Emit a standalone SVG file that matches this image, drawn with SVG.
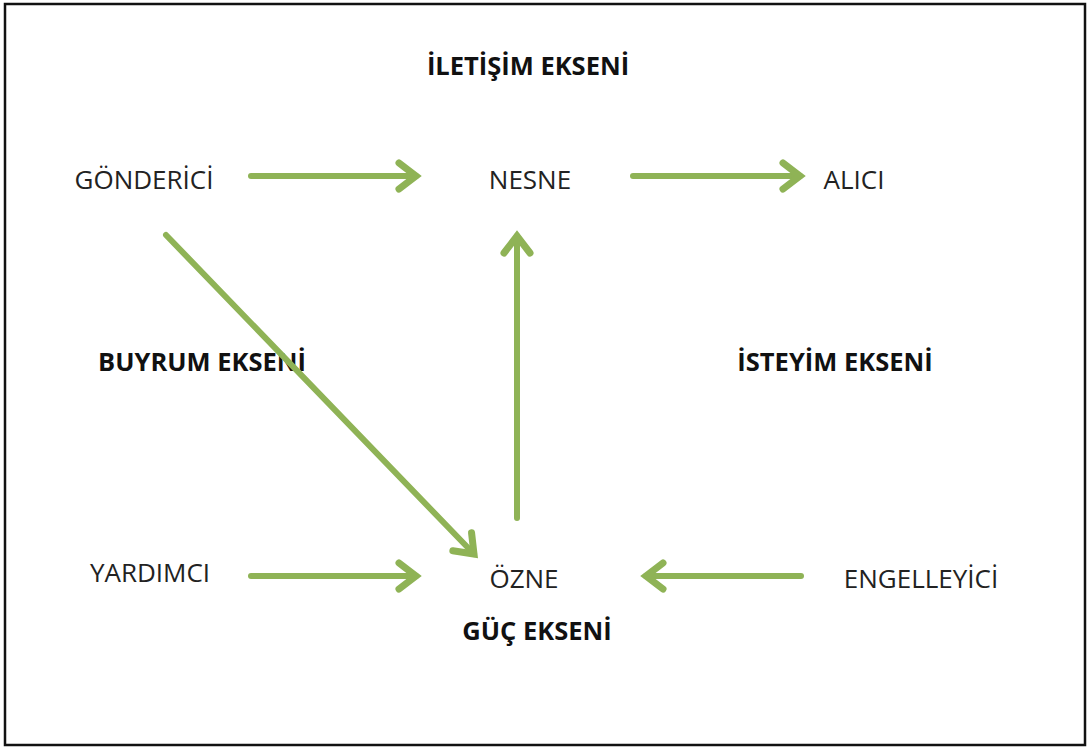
<svg xmlns="http://www.w3.org/2000/svg" width="1089" height="749" viewBox="0 0 1089 749">
<style>
.t{font-family:"Open Sans","Liberation Sans",sans-serif;font-size:26px;fill:#222;text-anchor:middle}
.b{font-weight:bold;font-size:25.5px;fill:#111;white-space:pre}
.c{stroke:#8fb356;stroke-width:6;fill:none;stroke-linecap:round}
</style>
<defs>
<marker id="ah" markerUnits="userSpaceOnUse" viewBox="-26 -20 32 40" refX="0" refY="0" markerWidth="32" markerHeight="40" orient="auto">
<path d="M-17,-13 L0,0 L-17,13" fill="none" stroke="#8fb356" stroke-width="7" stroke-linecap="round" stroke-linejoin="miter"/>
</marker>
</defs>
<rect x="0" y="0" width="1089" height="749" fill="#fff"/>
<rect x="5" y="4" width="1080" height="741" fill="#fff" stroke="#111" stroke-width="2.5"/>
<g id="iletisim"><text class="t b" x="528" y="75">İLETİŞİM EKSENİ</text></g>
<g id="gonderici"><text class="t" x="144" y="189">GÖNDERİCİ</text></g>
<g id="nesne"><text class="t" x="530" y="189">NESNE</text></g>
<g id="alici"><text class="t" x="854" y="189">ALICI</text></g>
<g id="buyrum"><text class="t b" x="202" y="371">BUYRUM EKSENİ</text></g>
<g id="isteyim"><text class="t b" x="835" y="371">İSTEYİM EKSENİ</text></g>
<g id="yardimci"><text class="t" x="150" y="582">YARDIMCI</text></g>
<g id="ozne"><text class="t" x="524" y="588">ÖZNE</text></g>
<g id="guc"><text class="t b" x="537" y="640">GÜÇ EKSENİ</text></g>
<g id="engelleyici"><text class="t" x="921" y="588">ENGELLEYİCİ</text></g>
<g id="connectors">
<line class="c" x1="251" y1="176" x2="416" y2="176" marker-end="url(#ah)"/>
<line class="c" x1="633" y1="176" x2="800" y2="176" marker-end="url(#ah)"/>
<line class="c" x1="517" y1="518" x2="517" y2="236" marker-end="url(#ah)"/>
<line class="c" x1="166" y1="235" x2="474" y2="554" marker-end="url(#ah)"/>
<line class="c" x1="251" y1="576" x2="416" y2="576" marker-end="url(#ah)"/>
<line class="c" x1="801" y1="576" x2="646" y2="576" marker-end="url(#ah)"/>
</g>
</svg>
